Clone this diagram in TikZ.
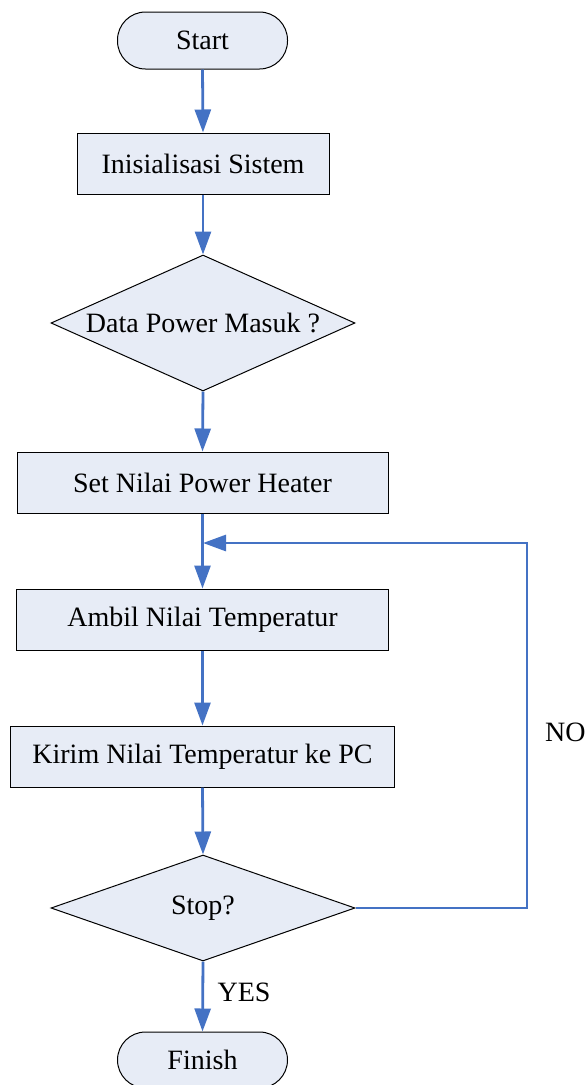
\documentclass[tikz,border=0pt]{standalone}
\usepackage{fontspec}
\setmainfont{Liberation Serif}
\usetikzlibrary{arrows.meta,shapes.geometric}
\definecolor{flowblue}{RGB}{68,114,196}
\definecolor{boxfill}{RGB}{231,236,246}
\begin{document}
\begin{tikzpicture}[x=1pt,y=-1pt,
  base/.style={draw=black,line width=1pt,fill=boxfill,inner sep=0pt,
    font=\fontsize{28}{32}\selectfont},
  procbox/.style={base,rectangle,minimum height=61pt},
  termbox/.style={base,rectangle,rounded corners=28pt,minimum width=170pt,minimum height=57pt},
  decbox/.style={base,diamond,minimum width=304pt},
  flow/.style={draw=flowblue,line width=2.8pt,-{Triangle[length=23pt,width=16pt]}},
  lbl/.style={font=\fontsize{28}{32}\selectfont,inner sep=0pt}]
\useasboundingbox (0,0) rectangle (586,1085);
\node[termbox] (start) at (202.5,40.5) {Start};
\node[procbox,minimum width=252pt] (init) at (203,163.5) {Inisialisasi Sistem};
\node[decbox,shape aspect=2.235,minimum height=136pt] (data) at (203,323) {Data Power Masuk ?};
\node[procbox,minimum width=371pt] (set) at (202.5,482.5) {Set Nilai Power Heater};
\node[procbox,minimum width=372pt] (ambil) at (202.5,619.5) {Ambil Nilai Temperatur};
\node[procbox,minimum width=384pt] (kirim) at (202.5,756.5) {Kirim Nilai Temperatur ke PC};
\node[decbox,shape aspect=2.87,minimum height=106pt] (stop) at (203,908) {Stop?};
\node[termbox,minimum height=56pt] (finish) at (202.5,1060) {Finish};
\coordinate (j) at (203,543);
\coordinate (c1) at (527,908);
\coordinate (c2) at (527,543);
\draw[flow] (start.south) -- (init.north);
\draw[flow] (init.south) -- (data.north);
\draw[flow] (data.south) -- (set.north);
\draw[flow] (set.south) -- (ambil.north);
\draw[flow] (ambil.south) -- (kirim.north);
\draw[flow] (kirim.south) -- (stop.north);
\draw[flow] (stop.south) -- (finish.north);
\draw[flow] (stop.east) -- (c1) -- (c2) -- (j);
\node[lbl] (yes) at (244,992) {YES};
\node[lbl,anchor=west] (no) at (545,732) {NO};
\end{tikzpicture}
\end{document}
